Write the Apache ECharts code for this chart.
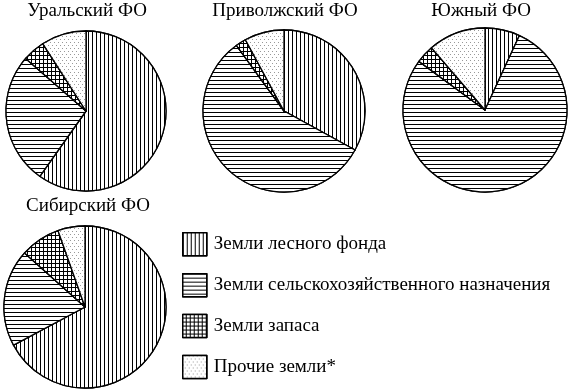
<!DOCTYPE html>
<html><head><meta charset="utf-8">
<script src="https://cdn.jsdelivr.net/npm/echarts@6/dist/echarts.min.js"></script>
<style>html,body{margin:0;padding:0;background:#fff}#c{width:573px;height:390px}</style>
</head><body><div id="c"></div>
<script>
const districts = ['Уральский ФО', 'Приволжский ФО', 'Южный ФО', 'Сибирский ФО'];
const categories = ['Земли лесного фонда', 'Земли сельскохозяйственного назначения', 'Земли запаса', 'Прочие земли*'];
const forest  = [59.8, 33.0, 6.9, 67.2];
const agri    = [26.6, 57.0, 78.2, 19.4];
const reserve = [4.5, 2.1, 3.6, 8.0];
const other   = [9.1, 7.9, 11.3, 5.4];

const decals = [
  {symbol:'rect', color:'#000', backgroundColor:'#fff', dashArrayX:[1,3], dashArrayY:[1,0], symbolSize:1},
  {symbol:'rect', color:'#000', backgroundColor:'#fff', dashArrayX:[1,0], dashArrayY:[1,3], symbolSize:1},
  {symbol:'rect', color:'#fff', backgroundColor:'#000', dashArrayX:[3,1], dashArrayY:[3,1], symbolSize:1},
  {symbol:'rect', color:'#999', backgroundColor:'#fff', dashArrayX:[[1,3],[0,2,1,1]], dashArrayY:[1,2], symbolSize:1}
];
const centers = [[86,111],[284,111],[485,110],[85,307]];
const radii = [80,81,82,81];
const titlePos = [[87,2],[285,2],[481,2],[88,197]];
const series = districts.map((d, i) => ({
  type:'pie', name:d, center:centers[i], radius:radii[i], startAngle:90, clockwise:true,
  label:{show:false}, labelLine:{show:false}, silent:true, emphasis:{disabled:true},
  itemStyle:{borderColor:'#000', borderWidth:1.3},
  data:[forest[i], agri[i], reserve[i], other[i]].map((v, k) => ({
    name:categories[k], value:v, itemStyle:{color:'#fff', decal:decals[k]}
  }))
}));
const chart = echarts.init(document.getElementById('c'), null, {renderer:'canvas'});
chart.setOption({
  animation:false,
  backgroundColor:'#fff',
  title: districts.map((d, i) => ({
    text:d, left:titlePos[i][0], top:titlePos[i][1], textAlign:'center', padding:0,
    textStyle:{fontFamily:'Liberation Serif', fontSize:19, fontWeight:'normal', color:'#000'}
  })),
  legend:{
    orient:'vertical', left:182, top:232, padding:0, itemWidth:24, itemHeight:23, itemGap:16.4,
    icon:'rect', selectedMode:false, data:categories,
    itemStyle:{borderColor:'#000', borderWidth:1.5},
    textStyle:{fontFamily:'Liberation Serif', fontSize:19, lineHeight:23, color:'#000', padding:[0,0,0,2]}
  },
  series: series
});
</script></body></html>
